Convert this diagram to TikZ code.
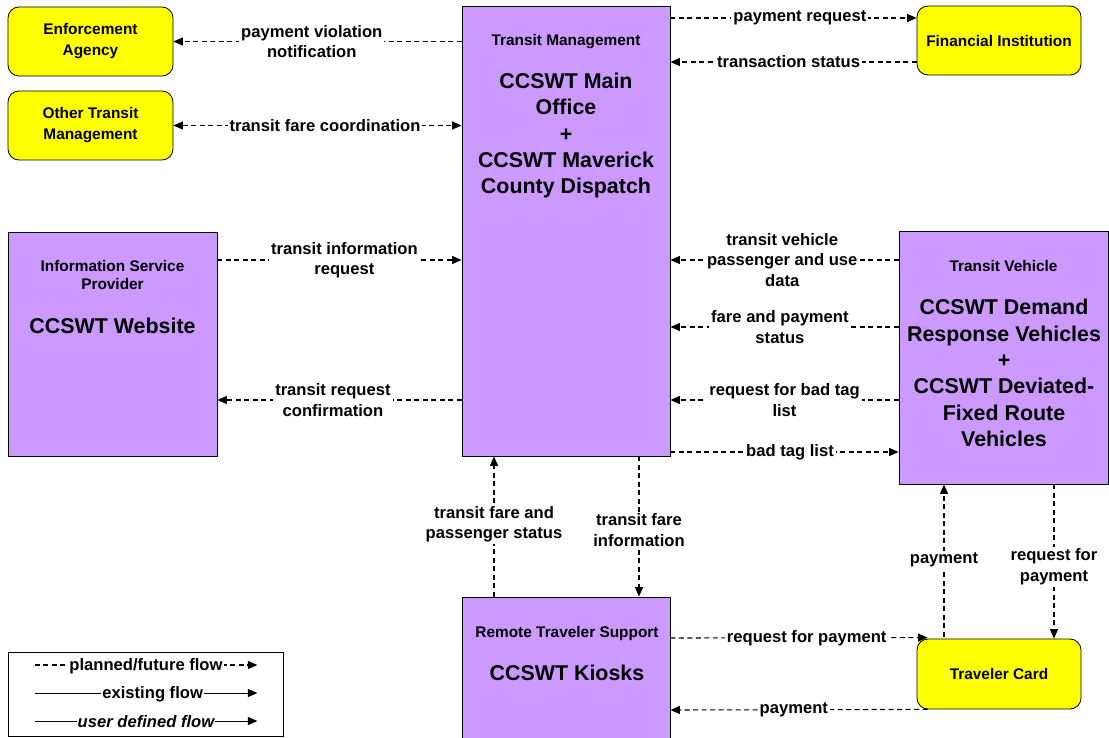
\documentclass[tikz,border=0pt]{standalone}
\usepackage{fontspec}
\setmainfont{Liberation Sans}
\usetikzlibrary{positioning, arrows.meta}
\definecolor{subPurple}{RGB}{204, 153, 255}
\definecolor{termYellow}{RGB}{255, 255, 0}

\begin{document}
\begin{tikzpicture}[
    x=1pt, y=-1pt,
    font=\bfseries,
    >={Triangle[length=9.5pt, width=8pt]},
    subsys_style/.style={draw=black, fill=subPurple, line width=0.8pt,
      inner sep=0pt},
    term_style/.style={draw=black, fill=termYellow, line width=0.8pt,
      rounded corners=11pt, align=center, inner sep=0pt,
      font=\fontsize{15.4}{21}\selectfont\bfseries},
    head_style/.style={align=center,
      font=\fontsize{15.4}{18.5}\selectfont\bfseries},
    title_style/.style={align=center,
      font=\fontsize{21.4}{26.4}\selectfont\bfseries},
    label_style/.style={fill=white, inner sep=2pt, align=center,
      font=\fontsize{16.6}{20.5}\selectfont\bfseries},
    flow_style/.style={line width=1.1pt, dash pattern=on 5pt off 3.5pt, ->},
    solid_style/.style={line width=1pt, ->}
]
    \useasboundingbox (0,0) rectangle (1109,738);

    % --- Sous-systemes ---
    \node[subsys_style, minimum width=208pt, minimum height=450pt]
        (tm) at (566,231) {};
    \node[head_style] (tm-head) at (566,41.5) {Transit Management};
    \node[title_style] (tm-title) at (566,135.5)
        {CCSWT Main\\Office\\+\\CCSWT Maverick\\County Dispatch};

    \node[subsys_style, minimum width=209pt, minimum height=224pt]
        (isp) at (112.5,344) {};
    \node[head_style] (isp-head) at (112.5,275)
        {Information Service\\Provider};
    \node[title_style] (isp-title) at (112.5,326) {CCSWT Website};

    \node[subsys_style, minimum width=209pt, minimum height=253pt]
        (tv) at (1003.5,357.5) {};
    \node[head_style] (tv-head) at (1003.5,266) {Transit Vehicle};
    \node[title_style] (tv-title) at (1004,373)
        {CCSWT Demand\\Response Vehicles\\+\\CCSWT Deviated-\\Fixed Route\\Vehicles};

    \node[subsys_style, minimum width=208pt, minimum height=148pt]
        (rts) at (566,671) {};
    \node[head_style] (rts-head) at (567,634) {Remote Traveler Support};
    \node[title_style] (rts-title) at (567,673) {CCSWT Kiosks};

    % --- Terminateurs ---
    \node[term_style, minimum width=165pt, minimum height=69pt]
        (ea) at (90.5,41.5) {Enforcement\\Agency};
    \node[term_style, minimum width=165pt, minimum height=69pt]
        (otm) at (90.5,125.5) {Other Transit\\Management};
    \node[term_style, minimum width=164pt, minimum height=69pt]
        (fi) at (999,40.5) {Financial Institution};
    \node[term_style, minimum width=164pt, minimum height=70pt]
        (tc) at (999,674) {Traveler Card};

    % --- Flux a gauche ---
    \draw[flow_style] (tm.west |- ea.east) -- (ea.east)
        node[label_style, pos=0.52] {payment violation\\notification};
    \draw[flow_style, <->] (otm.east) -- (tm.west |- otm.east)
        node[label_style, pos=0.526] {transit fare coordination};
    \draw[flow_style] ([yshift=84pt]isp.east)
        -- ([yshift=84pt]tm.west |- isp.east)
        node[label_style, pos=0.52] {transit information\\request};
    \draw[flow_style] ([yshift=-56pt]tm.west |- isp.east)
        -- ([yshift=-56pt]isp.east)
        node[label_style, pos=0.527] {transit request\\confirmation};

    % --- Flux a droite ---
    \draw[flow_style] ([yshift=22.5pt]tm.east |- fi.west)
        -- ([yshift=22.5pt]fi.west)
        node[label_style, pos=0.526] {payment request};
    \draw[flow_style] ([yshift=-21.5pt]fi.west)
        -- ([yshift=-21.5pt]tm.east |- fi.west)
        node[label_style, pos=0.52] {transaction status};

    \foreach \dy/\p/\txt in {
      97.5/0.51/{transit vehicle\\passenger and use\\data},
      30.5/0.52/{fare and payment\\status},
      -42.5/0.5/{request for bad tag\\list}}{
      \draw[flow_style] ([yshift=\dy pt]tv.west)
          -- ([yshift=\dy pt]tm.east |- tv.west)
          node[label_style, pos=\p] {\txt};
    }
    \draw[flow_style] ([yshift=-94.5pt]tm.east |- tv.west)
        -- ([yshift=-94.5pt]tv.west)
        node[label_style, pos=0.524] {bad tag list};

    % --- Flux verticaux ---
    \draw[flow_style] ([xshift=-72pt]rts.north)
        -- ([xshift=-72pt]rts.north |- tm.south)
        node[label_style, pos=0.515] {transit fare and\\passenger status};
    \draw[flow_style] ([xshift=73pt]rts.north |- tm.south)
        -- ([xshift=73pt]rts.north)
        node[label_style, pos=0.525] {transit fare\\information};
    \draw[flow_style] ([xshift=-55pt,yshift=2pt]tc.north)
        -- ([xshift=-55pt]tc.north |- tv.south)
        node[label_style, pos=0.504] {payment};
    \draw[flow_style] ([xshift=55pt]tc.north |- tv.south)
        -- ([xshift=55pt]tc.north)
        node[label_style, pos=0.533] {request for\\payment};

    % --- Flux du bas ---
    \draw[flow_style] ([yshift=33pt]rts.east)
        -- ([xshift=11pt,yshift=1pt]tc.north west)
        node[label_style, pos=0.53] {request for payment};
    \draw[flow_style] ([xshift=11pt]tc.south west)
        -- ([yshift=-39pt]rts.east)
        node[label_style, pos=0.52] {payment};

    % --- Legende ---
    \node[draw=black, line width=0.8pt, minimum width=275pt,
          minimum height=84pt, inner sep=0pt] (legend) at (145.5,694) {};
    \draw[flow_style] ([shift={(27pt,29pt)}]legend.west)
        -- ([shift={(-26pt,29pt)}]legend.east)
        node[label_style, inner sep=1pt, pos=0.5, yshift=-1pt] {planned/future flow};
    \draw[solid_style] ([shift={(27pt,1pt)}]legend.west)
        -- ([shift={(-26pt,1pt)}]legend.east)
        node[label_style, inner sep=1pt, pos=0.53, yshift=-1pt] {existing flow};
    \draw[solid_style] ([shift={(27pt,-27pt)}]legend.west)
        -- ([shift={(-26pt,-27pt)}]legend.east)
        node[label_style, inner sep=1pt, pos=0.5, yshift=-1pt]
        {\fontsize{16.6}{20.5}\selectfont\bfseries\itshape user defined flow};

\end{tikzpicture}
\end{document}
